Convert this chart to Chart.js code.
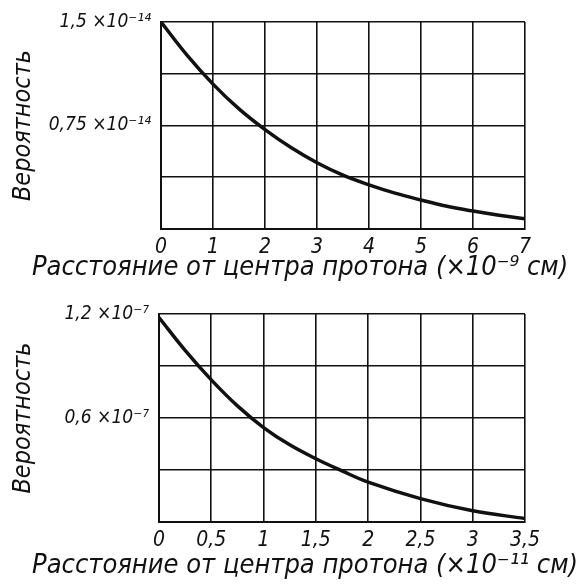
<!DOCTYPE html>
<html>
<head>
<meta charset="utf-8">
<script src="https://cdn.jsdelivr.net/npm/chart.js@4"></script>
<style>
  body { margin: 0; background: #fff; }
  canvas { position: absolute; left: 0; }
  #top-chart { top: 0; }
  #bottom-chart { top: 292px; }
</style>
</head>
<body>
<canvas id="top-chart" width="583" height="292"></canvas>
<canvas id="bottom-chart" width="583" height="292"></canvas>
<script>
// верхний график: расстояние (×10^-9 см), вероятность (×10^-14)
const topDistance = [0, 0.5, 1, 1.5, 2, 2.5, 3, 3.5, 4, 4.5, 5, 5.5, 6, 6.5, 7];
const topProbability = [1.5, 1.26, 1.05, 0.87, 0.72, 0.59, 0.48, 0.39, 0.32, 0.26, 0.21, 0.165, 0.13, 0.10, 0.075];
const topLabeledTicks = [1.5, 0.75];

// нижний график: расстояние (×10^-11 см), вероятность (×10^-7)
const bottomDistance = [0, 0.25, 0.5, 0.75, 1, 1.25, 1.5, 1.75, 2, 2.5, 3, 3.5];
const bottomProbability = [1.18, 0.99, 0.82, 0.67, 0.545, 0.445, 0.365, 0.295, 0.23, 0.135, 0.065, 0.02];
const bottomLabeledTicks = [1.2, 0.6];

const FONT = "'DejaVu Sans Condensed', 'DejaVu Sans', sans-serif";

// подпись оси X рисуем сами, чтобы сдвинуть её левее центра оси
const xCaption = {
    id: 'xCaption',
    afterDraw(chart, args, opts) {
        const ctx = chart.ctx;
        ctx.save();
        ctx.font = 'italic 27px ' + FONT;
        ctx.fillStyle = '#111';
        ctx.textAlign = 'center';
        ctx.textBaseline = 'middle';
        ctx.fillText(opts.text, opts.x, opts.y);
        ctx.restore();
    }
};

function makeChart(id, xs, ys, cfg) {
    const points = xs.map((x, i) => ({ x: x, y: ys[i] }));
    return new Chart(document.getElementById(id), {
        type: 'line',
        data: {
            datasets: [{
                data: points,
                borderColor: '#111',
                borderWidth: 3.5,
                pointRadius: 0,
                tension: 0.4,
                fill: false
            }]
        },
        options: {
            responsive: false,
            animation: false,
            layout: { padding: { left: 0, right: cfg.right, top: 22, bottom: 0 } },
            plugins: {
                legend: { display: false },
                tooltip: { enabled: false },
                xCaption: { text: cfg.xTitle, x: cfg.captionX, y: cfg.captionY }
            },
            scales: {
                x: {
                    type: 'linear',
                    min: 0,
                    max: cfg.xMax,
                    afterBuildTicks: s => { s.ticks = cfg.xTicks.map(v => ({ value: v })); },
                    afterFit: s => { s.height = cfg.xHeight; },
                    grid: { color: '#111', lineWidth: 1.6, drawTicks: false },
                    border: { color: '#111', width: 2 },
                    ticks: {
                        color: '#111',
                        padding: 6,
                        maxRotation: 0,
                        font: { family: FONT, size: 21, style: 'italic' },
                        callback: v => String(v).replace('.', ',')
                    }
                },
                y: {
                    min: 0,
                    max: cfg.yMax,
                    afterBuildTicks: s => { s.ticks = cfg.yTicks.map(v => ({ value: v })); },
                    afterFit: s => { s.width = cfg.yWidth; },
                    grid: { color: '#111', lineWidth: 1.6, drawTicks: false },
                    border: { color: '#111', width: 2 },
                    title: {
                        display: true,
                        text: 'Вероятность',
                        color: '#111',
                        padding: { top: 8, bottom: 0 },
                        font: { family: FONT, size: 25, style: 'italic' }
                    },
                    ticks: {
                        color: '#111',
                        padding: 10,
                        font: { family: FONT, size: 19, style: 'italic' },
                        callback: v => cfg.labeled.some(l => Math.abs(l - v) < 1e-9)
                            ? String(v).replace('.', ',') + ' ×10' + cfg.exp : ''
                    }
                }
            }
        },
        plugins: [xCaption]
    });
}

makeChart('top-chart', topDistance, topProbability, {
    xMax: 7,
    xTicks: [0, 1, 2, 3, 4, 5, 6, 7],
    yMax: 1.5,
    yTicks: [0, 0.375, 0.75, 1.125, 1.5],
    labeled: topLabeledTicks,
    exp: '⁻¹⁴',
    right: 58,
    yWidth: 161,
    xHeight: 63,
    xTitle: 'Расстояние от центра протона (×10⁻⁹ см)',
    captionX: 300,
    captionY: 268
});

makeChart('bottom-chart', bottomDistance, bottomProbability, {
    xMax: 3.5,
    xTicks: [0, 0.5, 1, 1.5, 2, 2.5, 3, 3.5],
    yMax: 1.2,
    yTicks: [0, 0.3, 0.6, 0.9, 1.2],
    labeled: bottomLabeledTicks,
    exp: '⁻⁷',
    right: 58,
    yWidth: 159,
    xHeight: 62,
    xTitle: 'Расстояние от центра протона (×10⁻¹¹ см)',
    captionX: 305,
    captionY: 274
});
</script>
</body>
</html>
